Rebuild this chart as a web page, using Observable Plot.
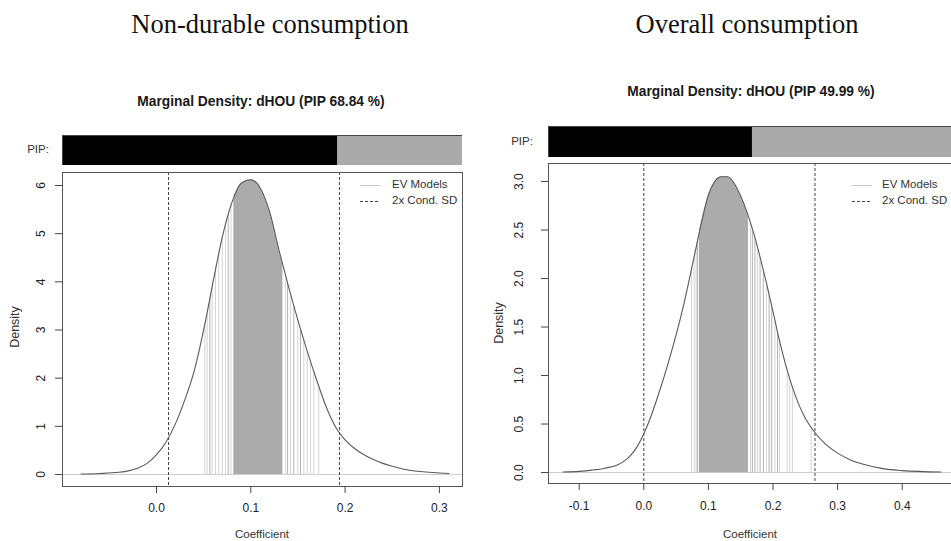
<!DOCTYPE html>
<html><head><meta charset="utf-8">
<script src="https://cdn.jsdelivr.net/npm/d3@7"></script>
<script src="https://cdn.jsdelivr.net/npm/@observablehq/plot@0.6"></script>
<style>
html,body{margin:0;padding:0;background:#fff;overflow:hidden;}
#root{position:relative;width:951px;height:541px;overflow:hidden;font-family:"Liberation Sans",Arial,sans-serif;color:#222;}
.abs{position:absolute;white-space:nowrap;line-height:1;transform:translate(-50%,-50%);}
.ttl{font-family:"Liberation Serif","Times New Roman",serif;font-size:26.5px;color:#111;}
.sub{font-weight:bold;font-size:13.8px;color:#1a1a1a;}
.lab{font-size:11.5px;color:#333;}
.labv{font-size:12.5px;color:#333;}
.leg{position:absolute;font-size:11.5px;color:#333;line-height:1;white-space:nowrap;}
svg{display:block;}
</style></head><body><div id="root"></div>
<script>
// ---------- data ----------
const panelTitles = ["Non-durable consumption", "Overall consumption"];
const variableName = "dHOU";
const pipValues = [68.84, 49.99];

// Left panel: marginal density of dHOU (non-durable consumption)
const leftCoef = [-0.08,-0.06,-0.04,-0.03,-0.02,-0.01,0.00,0.01,0.02,0.03,0.04,0.05,0.06,0.07,0.08,0.09,0.10,0.11,0.12,0.13,0.14,0.15,0.16,0.17,0.18,0.19,0.20,0.21,0.22,0.23,0.24,0.25,0.26,0.28,0.31];
const leftDens = [0.01,0.02,0.045,0.075,0.13,0.23,0.41,0.67,1.05,1.55,2.15,3.00,4.00,4.95,5.65,6.05,6.12,5.95,5.45,4.65,3.90,3.20,2.55,1.95,1.40,0.98,0.72,0.54,0.41,0.31,0.23,0.17,0.12,0.06,0.02];
const leftSD = [0.0127, 0.194];
const leftEVBand = [0.082, 0.134];
const leftEVLight = [0.0513,0.0537,0.059,0.0626,0.066,0.0697,0.0732,0.079,0.137,0.142,0.1498,0.1562,0.1598,0.1633,0.1668,0.172];
const leftEVDark = [0.0565,0.076,0.139,0.1456,0.1527];
const leftXTicks = [0.0, 0.1, 0.2, 0.3];
const leftYTicks = [0, 1, 2, 3, 4, 5, 6];

// Right panel: marginal density of dHOU (overall consumption)
const rightCoef = [-0.125,-0.10,-0.08,-0.06,-0.04,-0.03,-0.02,-0.01,0.00,0.01,0.02,0.04,0.06,0.08,0.09,0.10,0.11,0.12,0.13,0.14,0.15,0.16,0.17,0.18,0.19,0.20,0.21,0.22,0.23,0.24,0.25,0.265,0.28,0.30,0.32,0.34,0.37,0.40,0.46];
const rightDens = [0.005,0.012,0.025,0.045,0.08,0.12,0.18,0.27,0.40,0.56,0.75,1.18,1.68,2.29,2.60,2.86,3.00,3.05,3.05,2.98,2.85,2.68,2.47,2.22,1.95,1.66,1.36,1.10,0.88,0.70,0.56,0.41,0.30,0.20,0.13,0.085,0.04,0.02,0.005];
const rightSD = [0.0, 0.265];
const rightEVBand = [0.086, 0.162];
const rightEVLight = [0.074,0.078,0.081,0.165,0.176,0.19,0.203,0.21,0.222,0.226,0.23,0.259];
const rightEVDark = [0.083,0.168,0.172,0.18,0.185,0.194,0.198,0.207];
const rightXTicks = [-0.1, 0.0, 0.1, 0.2, 0.3, 0.4];
const rightYTicks = [0.0, 0.5, 1.0, 1.5, 2.0, 2.5, 3.0];

const legendLabels = ["EV Models", "2x Cond. SD"];

// ---------- drawing ----------
const root = document.getElementById("root");
function place(node, left, top) {
  node.style.position = "absolute";
  node.style.left = left + "px";
  node.style.top = top + "px";
  root.appendChild(node);
}
function label(text, cls, x, y, rotate) {
  const d = document.createElement("div");
  d.className = "abs " + cls;
  d.textContent = text;
  d.style.left = x + "px";
  d.style.top = y + "px";
  if (rotate) d.style.transform = "translate(-50%,-50%) rotate(" + rotate + "deg)";
  root.appendChild(d);
}

function pipBar(pip, left, top, width, height) {
  const p = Plot.plot({
    width, height, margin: 0,
    x: {domain: [0, 100], axis: null},
    marks: [
      Plot.barX([pip], {x1: 0, x2: d => d, fill: "#000", inset: 0}),
      Plot.barX([pip], {x1: d => d, x2: 100, fill: "#aaaaaa", inset: 0}),
      Plot.frame({stroke: "#444"})
    ]
  });
  place(p, left, top);
}

function densityPanel(cfg) {
  const curve = cfg.coef.map((c, i) => ({c, d: cfg.dens[i]}));
  const ytop = cfg.yDomain[1];
  const p = Plot.plot({
    width: cfg.width, height: cfg.height,
    marginLeft: cfg.mL, marginRight: cfg.mR, marginTop: cfg.mT, marginBottom: cfg.mB,
    x: {domain: cfg.xDomain},
    y: {domain: cfg.yDomain},
    style: {fontFamily: '"Liberation Sans", Arial, sans-serif', fontSize: "12px", color: "#333", background: "transparent"},
    marks: [
      Plot.ruleY([0], {stroke: "#cccccc", strokeWidth: 1}),
      Plot.rect([cfg.band], {x1: d => d[0], x2: d => d[1], y1: 0, y2: ytop, fill: "#ababab"}),
      Plot.ruleX(cfg.evLight, {x: d => d, y1: 0, y2: ytop, stroke: "#d4d4d4", strokeWidth: 1}),
      Plot.ruleX(cfg.evDark, {x: d => d, y1: 0, y2: ytop, stroke: "#b2b2b2", strokeWidth: 1}),
      Plot.areaY(curve, {x: "c", y1: "d", y2: ytop, fill: "white", curve: "monotone-x"}),
      Plot.ruleX(cfg.sd, {x: d => d, stroke: "#444", strokeWidth: 1, strokeDasharray: "3,2"}),
      Plot.line(curve, {x: "c", y: "d", stroke: "#5a5a5a", strokeWidth: 1.1, curve: "monotone-x"}),
      Plot.frame({stroke: "#555"}),
      Plot.axisX({ticks: cfg.xTicks, tickSize: 7, tickPadding: cfg.xPad, tickFormat: d => d.toFixed(1), label: null, stroke: "#444", fill: "#222"}),
      Plot.axisY({ticks: cfg.yTicks, tickSize: 7, tickFormat: () => "", label: null, stroke: "#444"}),
      Plot.text(cfg.yTicks, {x: cfg.xDomain[0], y: d => d, text: cfg.yFmt, rotate: -90, dx: cfg.yDx, textAnchor: "middle", fill: "#222", fontSize: 12})
    ]
  });
  place(p, cfg.left, cfg.top);
}

function legend(sampleX, textX) {
  const s = document.createElementNS("http://www.w3.org/2000/svg", "svg");
  s.setAttribute("width", 22); s.setAttribute("height", 24);
  s.innerHTML = '<line x1="0" x2="20" y1="3.5" y2="3.5" stroke="#c8c8c8" stroke-width="1"/>' +
                '<line x1="0" x2="20" y1="19.5" y2="19.5" stroke="#444" stroke-width="1" stroke-dasharray="3,2"/>';
  place(s, sampleX, 182);
  legendLabels.forEach((t, i) => {
    const d = document.createElement("div");
    d.className = "leg";
    d.textContent = t;
    d.style.left = textX + "px";
    d.style.top = (179 + i * 16) + "px";
    root.appendChild(d);
  });
}

// Titles
label(panelTitles[0], "ttl", 270, 24);
label(panelTitles[1], "ttl", 747, 24);
label("Marginal Density: " + variableName + " (PIP " + pipValues[0].toFixed(2) + " %)", "sub", 261, 102);
label("Marginal Density: " + variableName + " (PIP " + pipValues[1].toFixed(2) + " %)", "sub", 751, 92);

// PIP bars
label("PIP:", "lab", 38, 150);
label("PIP:", "lab", 522, 142);
pipBar(pipValues[0], 62, 135, 400, 30);
pipBar(pipValues[1], 548, 126, 408, 31);

// Density panels
densityPanel({
  left: 0, top: 160, width: 475, height: 381, mL: 62, mR: 13, mT: 12, mB: 55,
  xDomain: [-0.0997, 0.3245], yDomain: [-0.25, 6.27],
  coef: leftCoef, dens: leftDens, sd: leftSD, band: leftEVBand,
  evLight: leftEVLight, evDark: leftEVDark,
  xTicks: leftXTicks, yTicks: leftYTicks, yFmt: d => d.toFixed(0), yDx: -21, xPad: 10
});
densityPanel({
  left: 475, top: 150, width: 491, height: 391, mL: 73, mR: 10, mT: 13, mB: 58,
  xDomain: [-0.1475, 0.484], yDomain: [-0.113, 3.186],
  coef: rightCoef, dens: rightDens, sd: rightSD, band: rightEVBand,
  evLight: rightEVLight, evDark: rightEVDark,
  xTicks: rightXTicks, yTicks: rightYTicks, yFmt: d => d.toFixed(1), yDx: -29, xPad: 11
});

// Axis titles
label("Density", "labv", 15, 327, -90);
label("Density", "labv", 499, 323, -90);
label("Coefficient", "lab", 262, 535);
label("Coefficient", "lab", 750, 535);

// Legends
legend(360, 392);
legend(852, 882);
</script>
</body></html>
